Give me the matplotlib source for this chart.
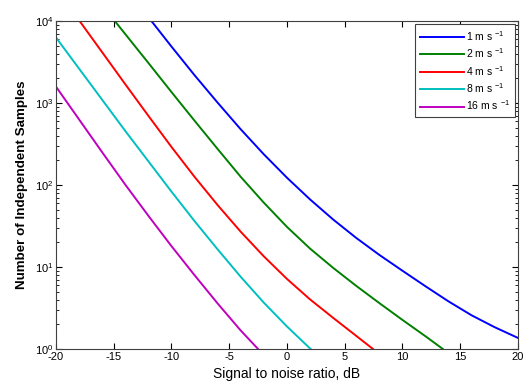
import matplotlib
matplotlib.use("Agg")
import matplotlib.pyplot as plt
import numpy as np

plt.rcParams['font.family'] = ['Liberation Sans', 'DejaVu Sans']
plt.rcParams['mathtext.fontset'] = 'custom'
plt.rcParams['mathtext.rm'] = 'Liberation Sans'
plt.rcParams['mathtext.it'] = 'Liberation Sans'
plt.rcParams['axes.unicode_minus'] = False

labels = [r'1 m s $^{-1}$', r'2 m s $^{-1}$', r'4 m s $^{-1}$', r'8 m s $^{-1}$', r'16 m s $^{-1}$']
colors = ['#0000ff', '#008000', '#ff0000', '#00bfbf', '#bf00bf']

# log10(number of independent samples) vs SNR (dB)
snr_1 = [-11.73, -10, -8, -6, -4, -2, 0, 2, 4, 6, 8, 10, 12, 14, 16, 18, 20]
log_n_1 = [4.0, 3.69, 3.34, 3.005, 2.68, 2.375, 2.09, 1.825, 1.58, 1.355, 1.148, 0.955, 0.765, 0.58, 0.41, 0.265, 0.135]

snr_2 = [-14.9, -12, -10, -8, -6, -4, -2, 0, 2, 4, 6, 8, 10, 12, 13.5]
log_n_2 = [4.0, 3.49, 3.135, 2.785, 2.44, 2.10, 1.785, 1.49, 1.225, 0.99, 0.77, 0.56, 0.355, 0.155, 0.0]

snr_4 = [-17.95, -16, -14, -12, -10, -8, -6, -4, -2, 0, 2, 4, 6, 7.45]
log_n_4 = [4.0, 3.62, 3.23, 2.845, 2.465, 2.10, 1.755, 1.43, 1.13, 0.855, 0.605, 0.38, 0.16, 0.0]

snr_8 = [-20, -18, -16, -14, -12, -10, -8, -6, -4, -2, 0, 2.05]
log_n_8 = [3.80, 3.42, 3.04, 2.66, 2.29, 1.92, 1.56, 1.215, 0.88, 0.565, 0.275, 0.0]

snr_16 = [-20, -18, -16, -14, -12, -10, -8, -6, -4, -2.5]
log_n_16 = [3.20, 2.80, 2.40, 2.005, 1.625, 1.255, 0.90, 0.555, 0.225, 0.0]

series = [(snr_1, log_n_1), (snr_2, log_n_2), (snr_4, log_n_4), (snr_8, log_n_8), (snr_16, log_n_16)]

fig = plt.figure(figsize=(5.23, 3.83), dpi=100)
ax = fig.add_axes([0.107, 0.089, 0.883, 0.856])

for (x, ly), lab, c in zip(series, labels, colors):
    ax.plot(x, 10 ** np.array(ly), color=c, lw=1.4, label=lab)

ax.set_yscale('log')
ax.set_xlim(-20, 20)
ax.set_ylim(1, 1e4)
ax.set_xticks(np.arange(-20, 21, 5))
ax.tick_params(which='both', direction='in', top=True, right=True, labelsize=8, pad=2)
ax.tick_params(which='major', length=4)
ax.tick_params(which='minor', length=2)
for s in ax.spines.values():
    s.set_color('#404040')
    s.set_linewidth(0.8)

ax.set_xlabel('Signal to noise ratio, dB', fontsize=10, labelpad=4)
ax.set_ylabel('Number of Independent Samples', fontsize=9.6, fontweight='bold', labelpad=5)

leg = ax.legend(loc='upper right', fontsize=7.5, fancybox=False, framealpha=1,
                edgecolor='#404040', handlelength=4.2, borderpad=0.45, labelspacing=0.35,
                handletextpad=0.2, borderaxespad=0.3)
leg.get_frame().set_linewidth(0.8)

fig.savefig('out.png', dpi=100)
